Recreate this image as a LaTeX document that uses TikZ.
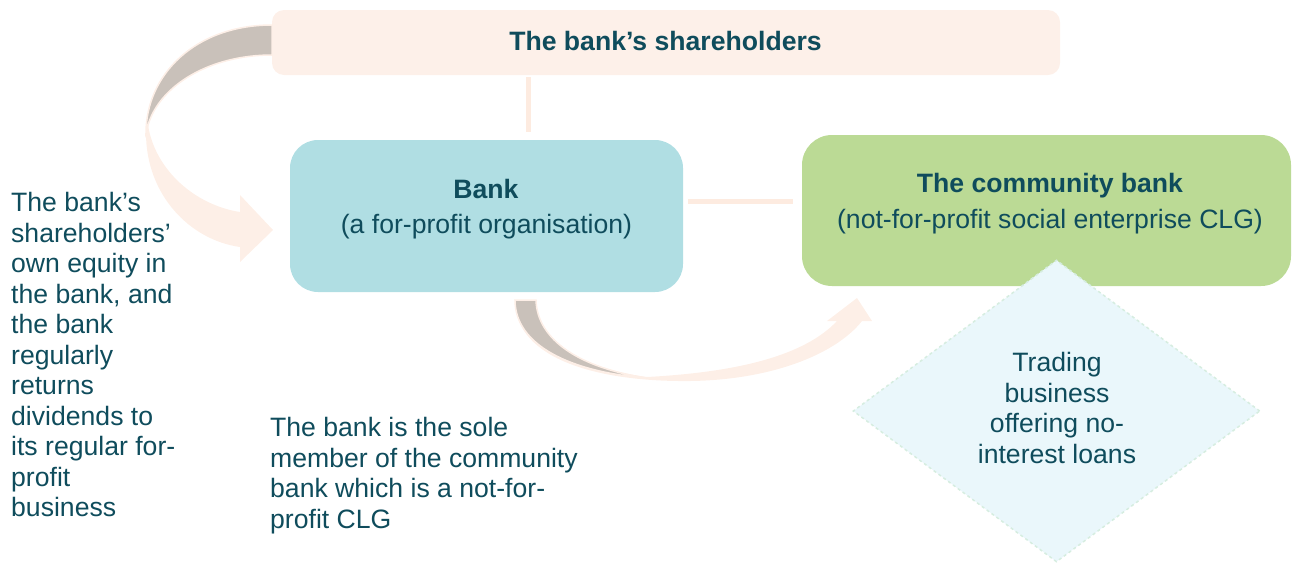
\documentclass[tikz,border=0pt]{standalone}
\usepackage{fontspec}
\setmainfont{Liberation Sans}
\usetikzlibrary{shapes.geometric}
\definecolor{txtcol}{HTML}{0F4C5C}
\definecolor{topfill}{HTML}{FDF0E9}
\definecolor{bankfill}{HTML}{B0DEE3}
\definecolor{commfill}{HTML}{BBDA95}
\definecolor{diamfill}{HTML}{EAF7FB}
\definecolor{diamline}{HTML}{D6EDE0}
\definecolor{arrdark}{HTML}{C9C1BA}
\definecolor{arrpeach}{HTML}{FDEFE7}
\definecolor{connline}{HTML}{FDEBE0}
\tikzset{
  box/.style={inner sep=0pt, draw=none},
  tx/.style={text=txtcol, inner sep=0pt, font=\fontsize{26.6pt}{30.5pt}\selectfont},
  txb/.style={tx, font=\fontsize{26.6pt}{30.5pt}\selectfont\bfseries},
  conn/.style={draw=connline, line width=5pt},
  arrbody/.style={fill=arrpeach, draw=none},
  arrback/.style={fill=arrdark, draw=arrpeach, line width=1.5pt}
}
\begin{document}
\begin{tikzpicture}[x=1pt,y=-1pt]
\useasboundingbox (0,0) rectangle (1292,563);

% boxes
\node[box, fill=topfill, rounded corners=12pt, minimum width=788pt, minimum height=65pt] (top) at (666,42.5) {};
\node[box, fill=bankfill, rounded corners=28pt, minimum width=393pt, minimum height=152pt] (bank) at (486.5,216) {};
\node[box, fill=commfill, rounded corners=30pt, minimum width=489pt, minimum height=151pt] (comm) at (1046.5,210.5) {};
\node[diamond, draw=diamline, dashed, line width=1.5pt, fill=diamfill, inner sep=0pt, minimum width=407pt, minimum height=302pt] (trade) at (1056.5,411) {};

% connectors
\coordinate (vx) at (528,0);
\coordinate (hy) at (0,201);
\draw[conn, shorten <=2pt, shorten >=8pt] (top.south -| vx) -- (bank.north -| vx);
\draw[conn, shorten <=5pt, shorten >=9pt] (bank.east |- hy) -- (comm.west |- hy);

% left curved arrow
\path[arrbody] (146,133) .. controls (146,195) and (190,240) .. (240,247)
  -- (240,262) -- (273,230) -- (240,195) -- (240,212)
  .. controls (195,205) and (155,170) .. (148,125) -- cycle;
\path[arrback] (272,25) .. controls (195,25) and (146,75) .. (146,133)
  .. controls (147,130) and (148,128) .. (148,125)
  .. controls (160,85) and (210,55) .. (272,55) -- cycle;

% bottom curved arrow
\path[arrbody] (515,300) .. controls (515,360) and (600,382) .. (690,381)
  .. controls (770,380) and (835,355) .. (862,321)
  -- (872,321) -- (857,298) -- (827,321) -- (837,321)
  .. controls (805,355) and (740,372) .. (647,377)
  .. controls (580,368) and (537,340) .. (536,300) -- cycle;
\path[arrback] (515,300) .. controls (515,345) and (570,372) .. (647,378)
  .. controls (580,368) and (537,340) .. (536,300) -- cycle;

% texts
\node[txb, anchor=base] at (665.5,50) {The bank’s shareholders};
\node[txb, anchor=base] at (486,198.3) {Bank};
\node[tx, anchor=base] at (486.5,233) {(a for-profit organisation)};
\node[txb, anchor=base] at (1050,192.7) {The community bank};
\node[tx, anchor=base] at (1050,228.3) {(not-for-profit social enterprise CLG)};
\node[tx, align=center, anchor=base] (tradetext) at (1057,463.3) {Trading\\business\\offering no-\\interest loans};
\node[tx, align=left, anchor=base west] (eqtext) at (11,516.7) {The bank’s\\shareholders’\\own equity in\\the bank, and\\the bank\\regularly\\returns\\dividends to\\its regular for-\\profit\\business};
\node[tx, align=left, anchor=base west] (soletext) at (270,528.3) {The bank is the sole\\member of the community\\bank which is a not-for-\\profit CLG};
\end{tikzpicture}
\end{document}
